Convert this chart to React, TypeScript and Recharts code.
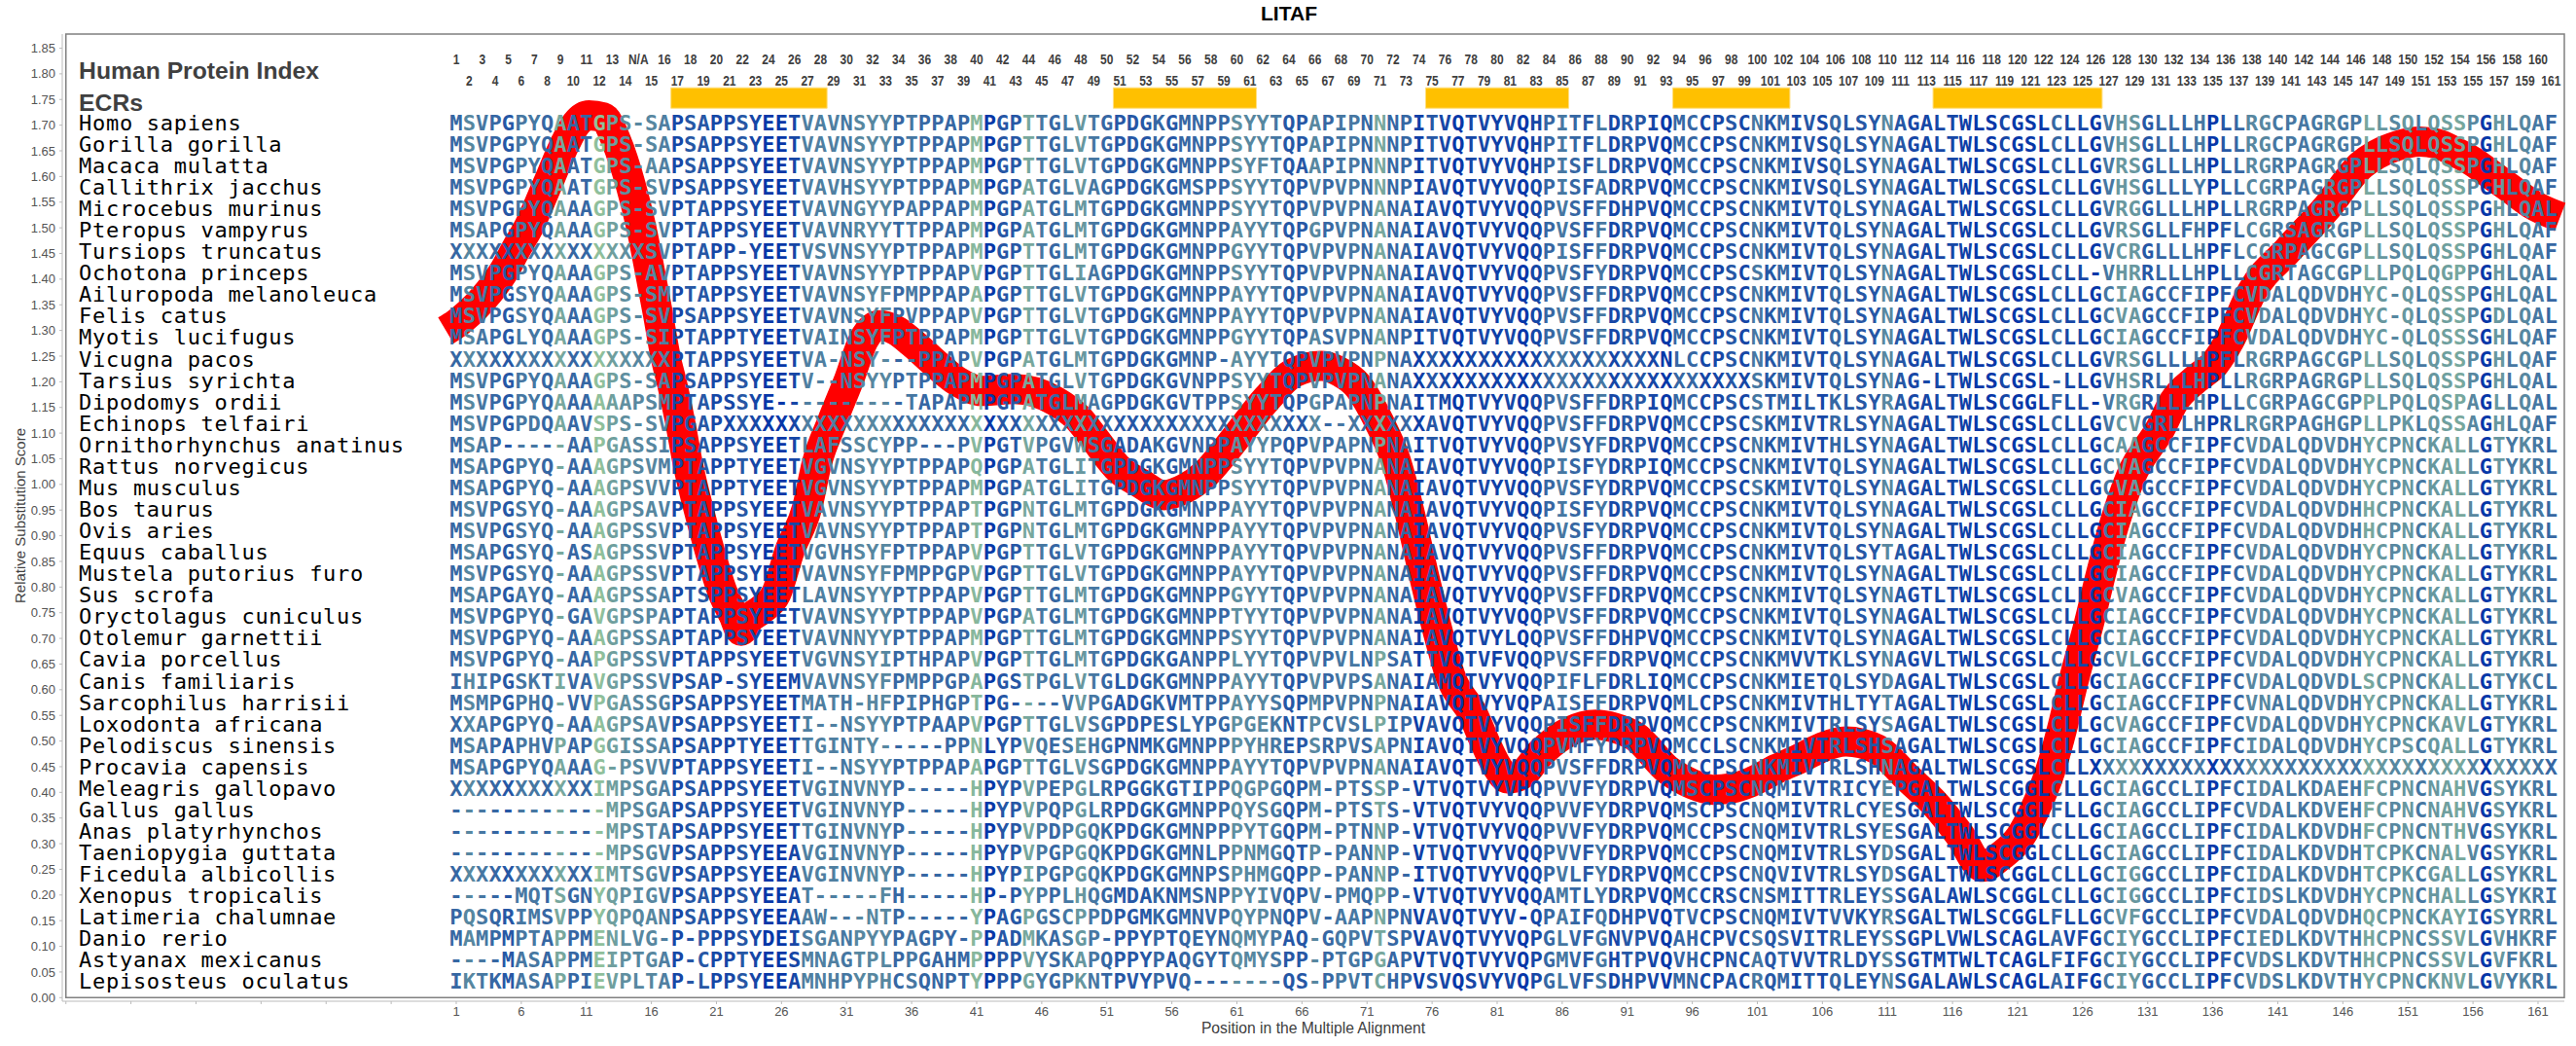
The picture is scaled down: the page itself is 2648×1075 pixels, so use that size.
import { ComposedChart, Line, Scatter, XAxis, YAxis, ReferenceArea } from 'recharts';

const species = [
  'Homo sapiens', 'Gorilla gorilla', 'Macaca mulatta', 'Callithrix jacchus', 'Microcebus murinus',
  'Pteropus vampyrus', 'Tursiops truncatus', 'Ochotona princeps', 'Ailuropoda melanoleuca', 'Felis catus',
  'Myotis lucifugus', 'Vicugna pacos', 'Tarsius syrichta', 'Dipodomys ordii', 'Echinops telfairi',
  'Ornithorhynchus anatinus', 'Rattus norvegicus', 'Mus musculus', 'Bos taurus', 'Ovis aries',
  'Equus caballus', 'Mustela putorius furo', 'Sus scrofa', 'Oryctolagus cuniculus', 'Otolemur garnettii',
  'Cavia porcellus', 'Canis familiaris', 'Sarcophilus harrisii', 'Loxodonta africana', 'Pelodiscus sinensis',
  'Procavia capensis', 'Meleagris gallopavo', 'Gallus gallus', 'Anas platyrhynchos', 'Taeniopygia guttata',
  'Ficedula albicollis', 'Xenopus tropicalis', 'Latimeria chalumnae', 'Danio rerio', 'Astyanax mexicanus',
  'Lepisosteus oculatus',
];

// alignment, split at columns 33 and 100
const alignment = [
  'MSVPGPYQAATGPS-SAPSAPPSYEETVAVNSY' + 'YPTPPAPMPGPTTGLVTGPDGKGMNPPSYYTQPAPIPNNNPITVQTVYVQHPITFLDRPIQMCCPSC' + 'NKMIVSQLSYNAGALTWLSCGSLCLLGVHSGLLLHPLLRGCPAGRGPLLSQLQSSPGHLQAF',
  'MSVPGPYQAATGPS-SAPSAPPSYEETVAVNSY' + 'YPTPPAPMPGPTTGLVTGPDGKGMNPPSYYTQPAPIPNNNPITVQTVYVQHPITFLDRPVQMCCPSC' + 'NKMIVSQLSYNAGALTWLSCGSLCLLGVHSGLLLHPLLRGCPAGRGPLLSQLQSSPGHLQAF',
  'MSVPGPYQAATGPS-AAPSAPPSYEETVAVNSY' + 'YPTPPAPMPGPTTGLVTGPDGKGMNPPSYFTQAAPIPNNNPITVQTVYVQHPISFLDRPVQMCCPSC' + 'NKMIVSQLSYNAGALTWLSCGSLCLLGVRSGLLLHPLLRGRPAGRGPLLSQLQSSPGHLQAF',
  'MSVPGPYQAATGPS-SVPSAPPSYEETVAVHSY' + 'YPTPPAPMPGPATGLVAGPDGKGMSPPSYYTQPVPVPNNNPIAVQTVYVQQPISFADRPVQMCCPSC' + 'NKMIVSQLSYNAGALTWLSCGSLCLLGVHSGLLLYPLLCGRPAGRGPLLSQLQSSPGHLQAF',
  'MSVPGPYQAAAGPS-SVPTAPPSYEETVAVNGY' + 'YPAPPAPMPGPATGLMTGPDGKGMNPPSYYTQPVPVPNANAIAVQTVYVQQPVSFFDHPVQMCCPSC' + 'NKMIVTQLSYNAGALTWLSCGSLCLLGVRGGLLLHPLLRGRPAGRGPLLSQLQSSPGHLQAL',
  'MSAPGPYQAAAGPS-SVPTAPPSYEETVAVNRY' + 'YTTPPAPMPGPATGLMTGPDGKGMNPPAYYTQPGPVPNANAIAVQTVYVQQPVSFFDRPVQMCCPSC' + 'NKMIVTQLSYNAGALTWLSCGSLCLLGVRSGLLFHPFLCGRSAGRGPLLSQLQSSPGHLQAF',
  'XXXXXXXXXXXXXXXSVPTAPP-YEETVSVNSY' + 'YPTPPAPMPGPTTGLMTGPDGKGMNPPGYYTQPVPVPNANAIAVQTVYVQQPISFFDRPVQMCCPSC' + 'NKMIVTQLSYNAGALTWLSCGSLCLLGVCRGLLLHPFLCGRPAGCGPLLSQLQSSPGHLQAF',
  'MSVPGPYQAAAGPS-AVPTAPPSYEETVAVNSY' + 'YPTPPAPVPGPTTGLIAGPDGKGMNPPSYYTQPVPVPNANAIAVQTVYVQQPVSFYDRPVQMCCPSC' + 'SKMIVTQLSYNAGALTWLSCGSLCLL-VHRRLLLHPLLCGRTAGCGPLLPQLQGPPGHLQAL',
  'MSVPGSYQAAAGPS-SMPTAPPSYEETVAVNSY' + 'FPMPPAPAPGPTTGLVTGPDGKGMNPPAYYTQPVPVPNANAIAVQTVYVQQPVSFFDRPVQMCCPSC' + 'NKMIVTQLSYNAGALTWLSCGSLCLLGCIAGCCFIPFCVDALQDVDHYC-QLQSSPGHLQAL',
  'MSVPGSYQAAAGPS-SVPSAPPSYEETVAVNSY' + 'FPVPPAPVPGPTTGLVTGPDGKGMNPPAYYTQPVPVPNANAIAVQTVYVQQPVSFFDRPVQMCCPSC' + 'NKMIVTQLSYNAGALTWLSCGSLCLLGCVAGCCFIPFCVDALQDVDHYC-QLQSSPGDLQAL',
  'MSAPGLYQAAAGPS-SIPTAPPTYEETVAINSY' + 'FPTPPAPMPGPTTGLVTGPDGKGMNPPGYYTQPASVPNANPITVQTVYVQQPVSFFDRPVQMCCPSC' + 'NKMIVTQLSYNAGALTWLSCGSLCLLGCIAGCCFIPFCVDALQDVDHYC-QLQSSSGHLQAF',
  'XXXXXXXXXXXXXXXXXPTAPPSYEETVA-NSY' + '---PPAPVPGPATGLMTGPDGKGMNP-AYYTQPVPVPNPNAXXXXXXXXXXXXXXXXXXXNLCCPSC' + 'NKMIVTQLSYNAGALTWLSCGSLCLLGVRSGLLLHPFLRGRPAGCGPLLSQLQSSPGHLQAF',
  'MSVPGPYQAAAGPS-SAPSAPPSYEETV--NSY' + 'YPTPPAPMPGPATGLVTGPDGKGVNPPSYYTQPVPVPNANAXXXXXXXXXXXXXXXXXXXXXXXXXX' + 'SKMIVTQLSYNAG-LTWLSCGSL-LLGVHSRLLLHPLLRGRPAGRGPLLSQLQSSPGHLQAL',
  'MSVPGPYQAAAAAAPSMPTAPSSYE--------' + '--TAPAPMPGPATGLMAGPDGKGVTPPSYYTQPGPAPNPNAITMQTVYVQQPVSFFDRPIQMCCPSC' + 'STMILTKLSYRAGALTWLSCGGLFLL-VRGRLLLHPLLCGRPAGCGPPLPQLQSPAGLLQAL',
  'MSVPGPDQAAVSPS-SVPGAPXXXXXXXXXXXX' + 'XXXXXXXXXXXXXXXXXXXXXXXXXXXXXXXXXX--XXXXXXAVQTVYVQQPVSFFDRPVQMCCPSC' + 'SKMIVTRLSYNAGALTWLSCGSLCLLGVCVGRLLHPRLRGRPAGHGPLLPKLQSSAGHLQAF',
  'MSAP-----AAPGASSIPSAPPSYEETLAFSSC' + 'YPP---PVPGTVPGVWSGADAKGVNPPAYYPQPVPAPNPNAITVQTVYVQQPVSYFDRPVQMCCPSC' + 'NKMIVTHLSYNAGALTWLSCGSLCLLGCAAGCCFIPFCVDALQDVDHYCPNCKALLGTYKRL',
  'MSAPGPYQ-AAAGPSVMPTAPPTYEETVGVNSY' + 'YPTPPAPQPGPATGLITGPDGKGMNPPSYYTQPVPVPNANAIAVQTVYVQQPISFYDRPIQMCCPSC' + 'NKMIVTQLSYNAGALTWLSCGSLCLLGCVAGCCFIPFCVDALQDVDHYCPNCKALLGTYKRL',
  'MSAPGPYQ-AAAGPSVVPTAPPTYEETVGVNSY' + 'YPTPPAPMPGPATGLITGPDGKGMNPPSYYTQPVPVPNANAIAVQTVYVQQPVSFYDRPVQMCCPSC' + 'SKMIVTQLSYNAGALTWLSCGSLCLLGCVAGCCFIPFCVDALQDVDHYCPNCKALLGTYKRL',
  'MSVPGSYQ-AAAGPSAVPTAPPSYEETVAVNSY' + 'YPTPPAPTPGPNTGLMTGPDGKGMNPPAYYTQPVPVPNANAIAVQTVYVQQPISFYDRPVQMCCPSC' + 'NKMIVTQLSYNAGALTWLSCGSLCLLGCIAGCCFIPFCVDALQDVDHHCPNCKALLGTYKRL',
  'MSVPGSYQ-AAAGPSSVPTAPPSYEETVAVNSY' + 'YPTPPAPTPGPNTGLMTGPDGKGMNPPAYYTQPVPVPNANAIAVQTVYVQQPVSFYDRPVQMCCPSC' + 'NKMIVTQLSYNAGALTWLSCGSLCLLGCIAGCCFIPFCVDALQDVDHHCPNCKALLGTYKRL',
  'MSAPGSYQ-ASAGPSSVPTAPPSYEETVGVHSY' + 'FPTPPAPVPGPTTGLVTGPDGKGMNPPAYYTQPVPVPNANAIAVQTVYVQQPVSFFDRPVQMCCPSC' + 'NKMIVTQLSYTAGALTWLSCGSLCLLGCIAGCCFIPFCVDALQDVDHYCPNCKALLGTYKRL',
  'MSVPGSYQ-AAAGPSSVPTAPPSYEETVAVNSY' + 'FPMPPGPVPGPTTGLVTGPDGKGMNPPAYYTQPVPVPNANAIAVQTVYVQQPVSFFDRPVQMCCPSC' + 'NKMIVTQLSYNAGALTWLSCGSLCLLGCIAGCCFIPFCVDALQDVDHYCPNCKALLGTYKRL',
  'MSAPGAYQ-AAAGPSSAPTSPPSYEETLAVNSY' + 'YPTPPAPVPGPTTGLMTGPDGKGMNPPGYYTQPVPVPNANAIAVQTVYVQQPVSFFDRPVQMCCPSC' + 'NKMIVTQLSYNAGTLTWLSCGSLCLLGCVAGCCFIPFCVDALQDVDHYCPNCKALLGTYKRL',
  'MSVPGPYQ-GAVGPSPAPTAPPSYEETVAVNSY' + 'YPTPPAPVPGPATGLMTGPDGKGMNPPTYYTQPVPVPNANAIAVQTVYVQQPVSFFDRPVQMCCPSC' + 'NKMIVTQLSYNAGALTWLSCGSLCLLGCIAGCCFIPFCVDALQDVDHYCPNCKALLGTYKRL',
  'MSVPGPYQ-AAAGPSSAPTAPPSYEETVAVNNY' + 'YPTPPAPMPGPTTGLMTGPDGKGMNPPSYYTQPVPVPNANAIAVQTVYLQQPVSFFDHPVQMCCPSC' + 'NKMIVTQLSYNAGALTWLSCGSLCLLGCIAGCCFIPFCVDALQDVDHYCPNCKALLGTYKRL',
  'MSVPGPYQ-AAPGPSSVPTAPPSYEETVGVNSY' + 'IPTHPAPVPGPTTGLMTGPDGKGANPPLYYTQPVPVLNPSATTVQTVFVQQPVSFFDRPVQMCCPSC' + 'NKMVVTKLSYNAGVLTWLSCGSLCLLGCVLGCCFIPFCVDALQDVDHYCPNCKALLGTYKRL',
  'IHIPGSKTIVAVGPSSVPSAP-SYEEMVAVNSY' + 'FPMPPGPAPGSTPGLVTGLDGKGMNPPAYYTQPVPVPSANAIAMQTVYVQQPIFLFDRLIQMCCPSC' + 'NKMIETQLSYDAGALTWLSCGSLCLLGCIAGCCFIPFCVDALQDVDLSCPNCKALLGTYKCL',
  'MSMPGPHQ-VVPGASSGPSAPPSYEETMATH-H' + 'FPIPHGPTPG----VVPGADGKVMTPPAYYSQPMPVPNPNAIAVQTVYVQPAISFFDRPVQMLCPSC' + 'NKMIVTHLTYTAGALTWLSCGSLCLLGCIAGCCFIPFCVNALQDVDHYCPNCKALLGTYKRL',
  'XXAPGPYQ-AAAGPSAVPSAPPSYEETI--NSY' + 'YPTPAAPVPGPTTGLVSGPDPESLYPGPGEKNTPCVSLPIPVAVQTVYVQQPISFFDRPVQMCCPSC' + 'NKMIVTRLSYSAGALTWLSCGSLCLLGCVAGCCFIPFCVDALQDVDHYCPNCKAVLGTYKRL',
  'MSAPAPHVPAPGGISSAPSAPPTYEETTGINTY' + '-----PPNLYPVQESEHGPNMKGMNPPPYHREPSRPVSAPNIAVQTVYVQQPVMFYDRPVQMCCLSC' + 'NKMIVTRLSHSAGALTWLSCGSLCLLGCIAGCCFIPFCIDALQDVDHYCPSCQALLGTYKRL',
  'MSAPGPYQAAAG-PSVVPTAPPSYEETI--NSY' + 'YPTPPAPAPGPTTGLVSGPDGKGMNPPAYYTQPVPVPNANAIAVQTVYVQQPVSFFDRPVQMCCPSC' + 'NKMIVTRLSHNAGALTWLSCGSLCLLXXXXXXXXXXXXXXXXXXXXXXXXXXXXXXXXXXXX',
  'XXXXXXXXXXXIMPSGAPSAPPSYEETVGINVN' + 'YP-----HPYPVPEPGLRPGGKGTIPPQGPGQPM-PTSSP-VTVQTVYVHQPVVFYDRPVQMSCPSC' + 'NQMIVTRICYEPGALTWLSCGGLCLLGCIAGCCLIPFCIDALKDAEHFCPNCNAHVGSYKRL',
  '------------MPSGAPSAPPSYEETVGINVN' + 'YP-----HPYPVPQPGLRPDGKGMNPPQYSGQPM-PTSTS-VTVQTVYVQQPVVFYDRPVQMSCPSC' + 'NQMIVTRLCYESGALTWLSCGGLFLLGCIAGCCLIPFCVDALKDVEHFCPNCNAHVGSYKRL',
  '------------MPSTAPSAPPSYEETTGINVN' + 'YP-----HPYPVPDPGQKPDGKGMNPPPYTGQPM-PTNNP-VTVQTVYVQQPVVFYDRPVQMCCPSC' + 'NQMIVTRLSYESGALTWLSCGGLCLLGCIAGCCLIPFCIDALKDVDHFCPNCNTHVGSYKRL',
  '------------MPSGVPSAPPSYEEAVGINVN' + 'YP-----HPYPVPGPGQKPDGKGMNLPPNMGQTP-PANNP-VTVQTVYVQQPVVFYDRPVQMCCPSC' + 'NQMIVTRLSYDSGALTWLSCGGLCLLGCIAGCCLIPFCIDALKDVDHTCPKCNALVGSYKRL',
  'XXXXXXXXXXXIMTSGVPSAPPSYEEAVGINVN' + 'YP-----HPYPIPGPGQKPDGKGMNPSPHMGQPP-PANNP-ITVQTVYVQQPVLFYDRPVQMCCPSC' + 'NQVIVTRLSYDSGALTWLSCGGLCLLGCIGGCCLIPFCIDALKDVDHTCPKCGALLGSYKRL',
  '-----MQTSGNYQPIGVPSAPPSYEEAT-----' + 'FH-----HP-PYPPLHQGMDAKNMSNPPYIVQPV-PMQPP-VTVQTVYVQQAMTLYDRPVQMCCRSC' + 'NSMITTRLEYSSGALAWLSCGGLCLLGCIGGCCLIPFCIDSLKDVDHYCPNCHALLGSYKRI',
  'PQSQRIMSVPPYQPQANPSAPPSYEEAAW---N' + 'TP-----YPAGPGSCPPDPGMKGMNVPQYPNQPV-AAPNPNVAVQTVYV-QPAIFQDHPVQTVCPSC' + 'NQMIVTVVKYRSGALTWLSCGGLFLLGCVFGCCLIPFCVDALQDVDHQCPNCKAYIGSYRRL',
  'MAMPMPTAPPMENLVG-P-PPPSYDEISGANPY' + 'YPAGPY-PPADMKASGP-PPYPTQEYNQMYPAQ-GQPVTSPVAVQTVYVQPGLVFGNVPVQAHCPVC' + 'SQSVITRLEYSSGPLVWLSCAGLAVFGCIYGCCLIPFCIEDLKDVTHHCPNCSSVLGVHKRF',
  '----MASAPPMEIPTGAP-CPPTYEESMNAGTP' + 'LPPGAHMPPPPVYSKAPQPPYPAQGYTQMYSPP-PTGPGAPVTVQTVYVQPGMVFGHTPVQVHCPNC' + 'AQTVVTRLDYSSGTMTWLTCAGLFIFGCIYGCCLIPFCVDSLKDVTHHCPNCSSVLGVFKRL',
  'IKTKMASAPPIEVPLTAP-LPPSYEEAMNHPYP' + 'HCSQNPTYPPPGYGPKNTPVYPVQ-------QS-PPVTCHPVSVQSVYVQPGLVFSDHPVVMNCPAC' + 'RQMITTQLEYNSGALAWLSCAGLAIFGCIYGCCLIPFCVDSLKDVTHYCPNCKNVLGVYKRL',
];

// shading of each alignment column: 0 = conserved (deep blue), 8.5 = variable (sage)
const columnShade = [
  3, 5, 4, 3, 2, 4, 4, 3, 7, 3,
  3, 8.5, 6.5, 5.5, 5, 5, 4.5, 1, 2, 2,
  1, 1, 2, 1, 0, 0, 1, 4.5, 4.5, 4.5,
  4, 5, 5, 5, 3, 4, 3, 3, 3, 3,
  8, 0, 2, 2, 7, 4, 3, 4, 6, 4,
  3, 2, 2, 2, 3, 2, 3, 3, 3, 3,
  5.5, 5, 5, 4, 2, 2, 5, 3, 4, 4,
  3, 7, 3, 3, 0.5, 2, 1, 0, 1, 1,
  0.5, 1, 0, 1, 3, 4, 3, 2, 4, 1,
  2, 2, 1, 0, 3, 3, 1, 1, 2, 1,
  4, 2, 3, 1, 2, 1, 3, 2, 2, 2,
  5, 2, 1, 1, 1, 1, 0.5, 0, 0, 1,
  0, 0, 0, 3, 1, 1, 0, 4, 6, 6,
  2, 3, 3, 3, 4, 0, 2, 3, 5, 5,
  4, 4, 4, 4, 5, 4, 4, 7, 6, 5,
  6, 4, 6, 6.5, 7, 5, 0, 6, 4, 5,
  4, 3,
];

const scorePositions = [
  0.2, 1, 2, 3, 4, 4.6, 5.6, 6.6, 8, 9.4, 10.2, 11.2, 12.3, 13.3, 14.4, 15.2, 15.9, 16.5, 17.1, 17.6,
  18.2, 18.8, 19.6, 20.5, 21.5, 22.3, 22.9, 23.5, 24.4, 25.6, 26.6, 28, 28.7, 29.9, 31.2, 32.3, 33.5, 34.8, 36, 37.5,
  39.5, 41.4, 43.9, 47, 48.8, 50, 52, 53.6, 55.4, 57, 58.6, 60, 61.1, 63.3, 65.4, 67.5, 69, 70.2, 71.9, 73.2,
  74.2, 75.4, 76.6, 77.4, 79.1, 80.2, 81, 81.8, 82.8, 84.4, 86.5, 88.6, 90, 91.6, 94.2, 96, 97.6, 99, 100.5, 102.5,
  104.5, 106, 107.8, 110.2, 112.6, 114.7, 116.5, 118.3, 119.7, 121.2, 122.3, 123.5, 124.4, 125.3, 126.5, 127.4, 128.4, 129.7, 132, 133,
  134.7, 136.2, 137.3, 139, 141.8, 144.8, 147.4, 148.6, 150.2, 151.9, 153.2, 154.7, 156, 157.1, 158.8, 160.4, 162.7,
];
const scoreValues = [
  1.3, 1.313, 1.334, 1.36, 1.391, 1.413, 1.459, 1.503, 1.584, 1.666, 1.702, 1.719, 1.715, 1.669, 1.584, 1.503, 1.413, 1.332, 1.247, 1.195,
  1.123, 1.04, 0.954, 0.869, 0.788, 0.746, 0.715, 0.738, 0.755, 0.788, 0.869, 0.958, 1.04, 1.123, 1.205, 1.281, 1.31, 1.3, 1.277, 1.243,
  1.201, 1.182, 1.186, 1.163, 1.129, 1.091, 1.028, 1.002, 0.979, 0.992, 1.021, 1.062, 1.097, 1.167, 1.218, 1.231, 1.218, 1.195, 1.123, 1.047,
  0.953, 0.82, 0.698, 0.627, 0.554, 0.49, 0.45, 0.427, 0.433, 0.478, 0.518, 0.532, 0.526, 0.509, 0.442, 0.416, 0.405, 0.408, 0.42, 0.446,
  0.469, 0.488, 0.499, 0.484, 0.427, 0.376, 0.319, 0.255, 0.276, 0.313, 0.365, 0.441, 0.522, 0.617, 0.731, 0.825, 0.92, 1.015, 1.11, 1.161,
  1.205, 1.237, 1.281, 1.375, 1.457, 1.54, 1.622, 1.643, 1.66, 1.668, 1.664, 1.647, 1.629, 1.609, 1.578, 1.548, 1.521,
];

const ecrRanges = [[17.5, 29.5], [51.5, 62.5], [75.5, 86.5], [94.5, 103.5], [114.5, 127.5]];

const yTicks = [
  0, 0.05, 0.1, 0.15, 0.2, 0.25, 0.3, 0.35, 0.4, 0.45, 0.5, 0.55, 0.6, 0.65, 0.7, 0.75, 0.8, 0.85, 0.9,
  0.95, 1, 1.05, 1.1, 1.15, 1.2, 1.25, 1.3, 1.35, 1.4, 1.45, 1.5, 1.55, 1.6, 1.65, 1.7, 1.75, 1.8, 1.85,
];
const xTicks = [
  -29, -24, -19, -14, -9, -4, 1, 6, 11, 16, 21, 26, 31, 36, 41, 46, 51, 56, 61, 66, 71, 76, 81, 86, 91, 96,
  101, 106, 111, 116, 121, 126, 131, 136, 141, 146, 151, 156, 161,
];

// human protein index label of a column (column 15 has no human residue)
const humanIndex = (col: number) => (col < 15 ? String(col) : col === 15 ? 'N/A' : String(col - 1));

const scoreData = scorePositions.map((position, i) => ({ position, score: scoreValues[i] }));
const residueData = alignment.flatMap((seq, row) =>
  seq.split('').map((letter, c) => ({ position: c + 1, row, letter })),
);
const headerData = columnShade.map((_, c) => ({
  position: c + 1,
  row: c % 2 === 0 ? -3 : -2,
  label: humanIndex(c + 1),
}));
const speciesData = species.map((label, row) => ({ position: -28, row, label }));
const sideTitleData = [
  { position: -28, row: -2.45, label: 'Human Protein Index' },
  { position: -28, row: -0.95, label: 'ECRs' },
];

const SANS = '"Liberation Sans", Arial, sans-serif';
const MONO = '"DejaVu Sans Mono", monospace';

function shadeColor(level: number) {
  const t = level / 8.5;
  const r = Math.round(6 + (143 - 6) * t);
  const g = Math.round(55 + (191 - 55) * t);
  const b = Math.round(168 + (155 - 168) * t);
  return `rgb(${r},${g},${b})`;
}

const Residue = (p: any) => (
  <text x={p.cx} y={p.cy} dy={7.5} textAnchor="middle" fontFamily={MONO} fontWeight="bold" fontSize={22} fill={shadeColor(columnShade[p.payload.position - 1])}>
    {p.payload.letter}
  </text>
);
// squeezed sideways, the reference has narrow tall digits here
const HeaderLabel = (p: any) => (
  <text transform={`translate(${p.cx} ${p.cy}) scale(0.8 1)`} dy={5.5} textAnchor="middle" fontFamily={SANS} fontWeight="bold" fontSize={15} fill="#404040">
    {p.payload.label}
  </text>
);
const SpeciesLabel = (p: any) => (
  <text x={p.cx} y={p.cy} dy={7.5} fontFamily={MONO} fontSize={22} letterSpacing={0.7} fill="#000">
    {p.payload.label}
  </text>
);
const SideTitle = (p: any) => (
  <text x={p.cx} y={p.cy} dy={8.5} fontFamily={SANS} fontWeight="bold" fontSize={24.7} fill="#404040">
    {p.payload.label}
  </text>
);
const ScoreAxisTitle = () => (
  <text transform="translate(26 530) rotate(-90)" textAnchor="middle" fontFamily={SANS} fontSize={15} fill="#404040">
    Relative Substitution Score
  </text>
);

export default function App() {
  return (
    <div style={{ position: 'absolute', left: 0, top: 0, width: 2648, height: 1075, background: '#fff' }}>
      <div style={{ position: 'absolute', left: 1325, top: 2, transform: 'translateX(-50%)', font: `bold 21px ${SANS}`, color: '#000' }}>LITAF</div>
      <ComposedChart width={2648} height={1075} margin={{ top: 35, right: 12, bottom: 0, left: 0 }}>
        <XAxis
          dataKey="position"
          type="number"
          domain={[-29.28, 163.02]}
          ticks={xTicks}
          interval={0}
          tickFormatter={(v: number) => (v < 1 ? '' : String(v))}
          tick={{ fill: '#555', fontSize: 13, fontFamily: SANS }}
          tickSize={3}
          tickMargin={3}
          tickLine={{ stroke: '#bbb' }}
          axisLine={{ stroke: '#bbb' }}
          height={46}
          label={{ value: 'Position in the Multiple Alignment', position: 'insideBottom', offset: 13, fill: '#404040', fontSize: 15.7, fontFamily: SANS }}
        />
        <YAxis
          yAxisId="score"
          type="number"
          domain={[-0.007, 1.8775]}
          ticks={yTicks}
          interval={0}
          tickFormatter={(v: number) => v.toFixed(2)}
          tick={{ fill: '#555', fontSize: 13, fontFamily: SANS }}
          tickSize={3}
          tickMargin={4}
          tickLine={{ stroke: '#bbb' }}
          axisLine={{ stroke: '#bbb' }}
          width={64}
          label={{ content: ScoreAxisTitle }}
        />
        <YAxis yAxisId="rows" orientation="right" dataKey="row" type="number" domain={[-4.136, 40.909]} reversed hide />
        <ReferenceArea yAxisId="score" x1={-29} x2={163.02} y1={0} y2={1.8775} fill="none" stroke="#808080" strokeWidth={1.5} ifOverflow="visible" />
        {ecrRanges.map(([x1, x2]) => (
          <ReferenceArea key={x1} yAxisId="rows" x1={x1} x2={x2} y1={-1.636} y2={-0.682} fill="#ffc000" fillOpacity={1} stroke="#ffdf80" />
        ))}
        <Line yAxisId="score" data={scoreData} dataKey="score" type="monotone" stroke="#ff0000" strokeWidth={31} dot={false} activeDot={false} isAnimationActive={false} />
        <Scatter yAxisId="rows" data={residueData} shape={Residue} isAnimationActive={false} />
        <Scatter yAxisId="rows" data={headerData} shape={HeaderLabel} isAnimationActive={false} />
        <Scatter yAxisId="rows" data={speciesData} shape={SpeciesLabel} isAnimationActive={false} />
        <Scatter yAxisId="rows" data={sideTitleData} shape={SideTitle} isAnimationActive={false} />
      </ComposedChart>
    </div>
  );
}
